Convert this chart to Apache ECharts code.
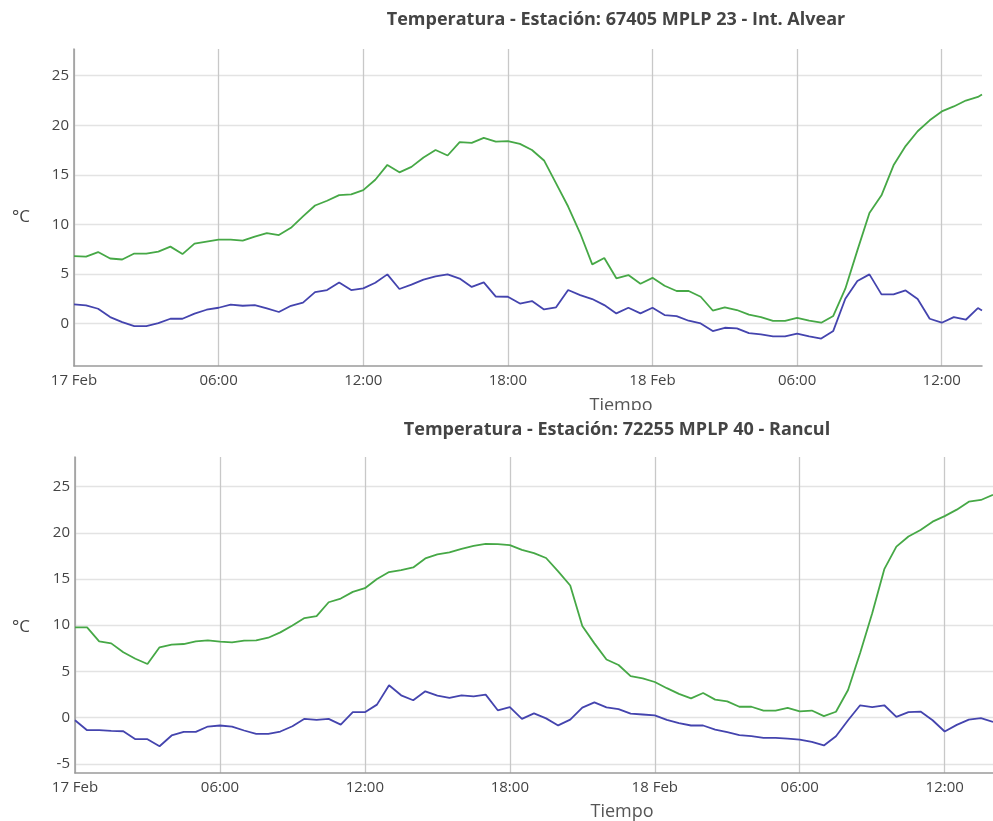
<!DOCTYPE html>
<html><head><meta charset="utf-8">
<script src="https://cdn.jsdelivr.net/npm/echarts@6/dist/echarts.min.js"></script>
<style>
html,body{margin:0;padding:0;background:#fff;overflow:hidden;width:993px;height:821px}
#c1{position:absolute;left:0;top:0;width:993px;height:410px}
#c2{position:absolute;left:0;top:410px;width:993px;height:411px}
</style>
</head><body><div id="c1"></div><div id="c2"></div>
<script>
// ---- data ----
const xTickHours = [0, 6, 12, 18, 24, 30, 36];
const xTickLabels = ['17 Feb', '06:00', '12:00', '18:00', '18 Feb', '06:00', '12:00'];
const yTicksTop = [0, 5, 10, 15, 20, 25];
const yTicksBottom = [-5, 0, 5, 10, 15, 20, 25];

const titleTop = 'Temperatura - Estación: 67405 MPLP 23 - Int. Alvear';
const titleBottom = 'Temperatura - Estación: 72255 MPLP 40 - Rancul';
const xName = 'Tiempo';
const yName = '°C';

// hours since 17 Feb 00:00
const hoursTop = [0,0.5,1,1.5,2,2.5,3,3.5,4,4.5,5,5.5,6,6.5,7,7.5,8,8.5,9,9.5,10,10.5,11,11.5,12,12.5,13,13.5,14,14.5,15,15.5,16,16.5,17,17.5,18,18.5,19,19.5,20,20.5,21,21.5,22,22.5,23,23.5,24,24.5,25,25.5,26,26.5,27,27.5,28,28.5,29,29.5,30,30.5,31,31.5,32,32.5,33,33.5,34,34.5,35,35.5,36,36.5,37,37.5,37.67];
const alvearMax = [6.8,6.75,7.2,6.55,6.45,7.05,7.05,7.25,7.75,7.0,8.05,8.25,8.45,8.45,8.35,8.75,9.12,8.92,9.65,10.8,11.9,12.38,12.95,13.03,13.45,14.5,16.0,15.25,15.8,16.75,17.5,16.95,18.3,18.22,18.73,18.35,18.4,18.12,17.5,16.45,14.14,11.8,9.1,5.96,6.6,4.55,4.88,4.0,4.6,3.8,3.27,3.27,2.69,1.3,1.62,1.35,0.88,0.64,0.26,0.26,0.55,0.27,0.07,0.75,3.5,7.37,11.15,12.93,15.96,17.9,19.4,20.5,21.4,21.9,22.5,22.86,23.1];
const alvearMin = [1.92,1.82,1.48,0.64,0.13,-0.27,-0.27,0.03,0.47,0.47,0.98,1.38,1.58,1.89,1.78,1.85,1.52,1.15,1.78,2.09,3.16,3.37,4.14,3.37,3.54,4.1,4.95,3.47,3.92,4.42,4.75,4.95,4.53,3.68,4.14,2.7,2.69,2.0,2.26,1.41,1.62,3.37,2.86,2.46,1.85,1.01,1.58,1.01,1.58,0.84,0.74,0.27,0.0,-0.77,-0.44,-0.5,-0.98,-1.1,-1.3,-1.3,-1.02,-1.3,-1.53,-0.76,2.49,4.28,4.95,2.93,2.93,3.33,2.46,0.47,0.07,0.64,0.37,1.55,1.31];

const hoursBottom = [0,0.5,1,1.5,2,2.5,3,3.5,4,4.5,5,5.5,6,6.5,7,7.5,8,8.5,9,9.5,10,10.5,11,11.5,12,12.5,13,13.5,14,14.5,15,15.5,16,16.5,17,17.5,18,18.5,19,19.5,20,20.5,21,21.5,22,22.5,23,23.5,24,24.5,25,25.5,26,26.5,27,27.5,28,28.5,29,29.5,30,30.5,31,31.5,32,32.5,33,33.5,34,34.5,35,35.5,36,36.5,37,37.5,38];
const ranculMax = [9.76,9.76,8.25,8.03,7.06,6.37,5.8,7.6,7.89,7.96,8.25,8.35,8.21,8.14,8.32,8.35,8.64,9.22,9.97,10.77,10.97,12.48,12.88,13.6,14.0,15.0,15.75,15.96,16.25,17.22,17.65,17.87,18.25,18.57,18.79,18.78,18.66,18.14,17.8,17.27,15.83,14.29,9.92,8.03,6.28,5.69,4.48,4.25,3.85,3.18,2.57,2.08,2.66,1.94,1.75,1.17,1.17,0.76,0.76,1.04,0.68,0.76,0.16,0.63,2.98,6.99,11.3,16.06,18.5,19.6,20.3,21.2,21.8,22.5,23.37,23.55,24.1];
const ranculMin = [-0.29,-1.37,-1.37,-1.44,-1.48,-2.34,-2.34,-3.1,-1.94,-1.55,-1.55,-0.97,-0.86,-0.97,-1.4,-1.76,-1.76,-1.51,-0.94,-0.14,-0.25,-0.14,-0.76,0.58,0.58,1.4,3.49,2.41,1.87,2.84,2.38,2.12,2.41,2.3,2.48,0.79,1.12,-0.14,0.45,-0.09,-0.85,-0.23,1.08,1.64,1.1,0.92,0.42,0.33,0.23,-0.25,-0.6,-0.86,-0.86,-1.3,-1.58,-1.91,-2.02,-2.2,-2.2,-2.27,-2.38,-2.63,-3.02,-2.02,-0.29,1.33,1.12,1.33,0.07,0.58,0.65,-0.29,-1.51,-0.79,-0.22,-0.07,-0.47];

// ---- styling / layout ----
const FONT = 'Open Sans';
const GREEN = '#46a846';
const BLUE = '#4444ae';

function pairs(xs, ys) { return xs.map((x, i) => [x, ys[i]]); }

function makeOption(cfg) {
  return {
    animation: false,
    textStyle: { fontFamily: FONT },
    title: {
      text: cfg.title, left: cfg.titleX, top: cfg.titleY, textAlign: 'center', padding: 0,
      textStyle: { fontFamily: FONT, fontSize: 18, fontWeight: 'bold', color: '#444' }
    },
    grid: cfg.grid,
    xAxis: {
      type: 'value', min: 0, max: cfg.xMax,
      axisLine: { show: true, onZero: false, lineStyle: { color: '#9a9a9a', width: 1.5 } },
      axisTick: { show: false, customValues: xTickHours },
      axisLabel: {
        customValues: xTickHours, color: '#444', fontSize: 15, margin: 7, fontFamily: FONT,
        formatter: v => xTickLabels[xTickHours.indexOf(v)] || ''
      },
      splitLine: { show: true, lineStyle: { color: '#c8c8c8', width: 1.3 } }
    },
    yAxis: {
      type: 'value', min: cfg.yMin, max: cfg.yMax,
      axisLine: { show: true, onZero: false, lineStyle: { color: '#9a9a9a', width: 1.5 } },
      axisTick: { show: false, customValues: cfg.yTicks },
      axisLabel: { customValues: cfg.yTicks, color: '#444', fontSize: 15, margin: 5, fontFamily: FONT },
      splitLine: { show: true, lineStyle: { color: '#e3e3e3', width: 1.3 } }
    },
    graphic: [
      { type: 'text', x: cfg.yNamePos[0], y: cfg.yNamePos[1],
        style: { text: yName, fill: '#444', fontSize: 17, fontFamily: FONT, align: 'center', verticalAlign: 'middle' } },
      { type: 'text', x: cfg.xNamePos[0], y: cfg.xNamePos[1],
        style: { text: xName, fill: '#555', fontSize: 18, fontFamily: FONT, align: 'center', verticalAlign: 'middle' } }
    ],
    series: [
      { type: 'line', data: pairs(cfg.hours, cfg.max), showSymbol: false, lineStyle: { color: GREEN, width: 1.8 }, itemStyle: { color: GREEN } },
      { type: 'line', data: pairs(cfg.hours, cfg.min), showSymbol: false, lineStyle: { color: BLUE, width: 1.8 }, itemStyle: { color: BLUE } }
    ]
  };
}

const chartTop = echarts.init(document.getElementById('c1'), null, { renderer: 'canvas' });
chartTop.setOption(makeOption({
  title: titleTop, titleX: 616, titleY: 11,
  grid: { left: 74, right: 11, top: 49, bottom: 44 },
  xMax: hoursTop[hoursTop.length - 1], yMin: -4.3, yMax: 27.7, yTicks: yTicksTop,
  hours: hoursTop, max: alvearMax, min: alvearMin,
  yNamePos: [21, 217], xNamePos: [621, 406]
}));

const chartBottom = echarts.init(document.getElementById('c2'), null, { renderer: 'canvas' });
chartBottom.setOption(makeOption({
  title: titleBottom, titleX: 617, titleY: 11,
  grid: { left: 75, right: 0, top: 47, bottom: 48 },
  xMax: hoursBottom[hoursBottom.length - 1], yMin: -6, yMax: 28.2, yTicks: yTicksBottom,
  hours: hoursBottom, max: ranculMax, min: ranculMin,
  yNamePos: [21, 217], xNamePos: [622, 402]
}));
</script>
</body></html>
